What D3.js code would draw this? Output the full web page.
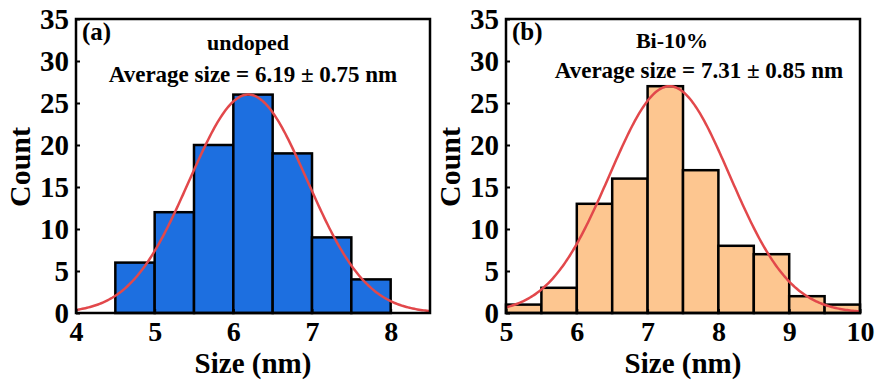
<!DOCTYPE html>
<html>
<head>
<meta charset="utf-8">
<script src="https://cdn.jsdelivr.net/npm/d3@7"></script>
<style>
  body { margin: 0; background: #fff; }
  svg text { font-family: "Liberation Serif", "Times New Roman", serif; font-weight: bold; fill: #000; }
</style>
</head>
<body>
<div class="chart"></div>
<script>
// panel (a): undoped
const binStartsA = [4.5, 5, 5.5, 6, 6.5, 7, 7.5];
const countsA = [6, 12, 20, 26, 19, 9, 4];
const xTicksA = [4, 5, 6, 7, 8];
const fitA = [6.19, 0.75, 26];   // mean, sd, peak

// panel (b): Bi-10%
const binStartsB = [5, 5.5, 6, 6.5, 7, 7.5, 8, 8.5, 9, 9.5];
const countsB = [1, 3, 13, 16, 27, 17, 8, 7, 2, 1];
const xTicksB = [5, 6, 7, 8, 9, 10];
const fitB = [7.31, 0.85, 27];

const yTicks = [0, 5, 10, 15, 20, 25, 30, 35];
const binWidth = 0.5;

const W = 878, H = 385;
const svg = d3.select(".chart").append("svg")
    .attr("width", W).attr("height", H);

function drawPanel(opt) {
    const g = svg.append("g");
    const x = d3.scaleLinear().domain(opt.xDomain).range([opt.left, opt.right]);
    const y = d3.scaleLinear().domain([0, 35]).range([313, 19]);

    // bars
    g.selectAll(".bar")
      .data(opt.starts.map((s, i) => ({ s: s, c: opt.counts[i] })))
      .enter().append("rect")
        .attr("class", "bar")
        .attr("x", d => x(d.s))
        .attr("y", d => y(d.c))
        .attr("width", d => x(d.s + binWidth) - x(d.s))
        .attr("height", d => y(0) - y(d.c))
        .attr("fill", opt.fill)
        .attr("stroke", "#000")
        .attr("stroke-width", 2.5);

    // gaussian fit line
    const mean = opt.fit[0], sd = opt.fit[1], peak = opt.fit[2];
    const xs = d3.range(opt.xDomain[0], opt.xDomain[1] + 0.001, 0.02);
    const line = d3.line()
        .x(d => x(d))
        .y(d => y(peak * Math.exp(-(d - mean) * (d - mean) / (2 * sd * sd))));
    g.append("path")
        .attr("d", line(xs))
        .attr("fill", "none")
        .attr("stroke", "#e2484b")
        .attr("stroke-width", 2.5);

    // frame
    g.append("rect")
        .attr("x", opt.left).attr("y", 19)
        .attr("width", opt.right - opt.left).attr("height", 313 - 19)
        .attr("fill", "none").attr("stroke", "#000").attr("stroke-width", 2.5);

    // axes
    const xAxis = g.append("g")
        .attr("transform", "translate(0,313)")
        .call(d3.axisBottom(x).tickValues(opt.xTicks).tickSize(-4).tickPadding(8).tickFormat(d3.format("d")));
    xAxis.select(".domain").remove();
    xAxis.selectAll("line").attr("stroke", "#000").attr("stroke-width", 2);
    xAxis.selectAll("text").style("font-size", "28px").attr("dy", "0.71em");

    const yAxis = g.append("g")
        .attr("transform", "translate(" + opt.left + ",0)")
        .call(d3.axisLeft(y).tickValues(yTicks).tickSize(-4).tickPadding(7));
    yAxis.select(".domain").remove();
    yAxis.selectAll("line").attr("stroke", "#000").attr("stroke-width", 2);
    yAxis.selectAll("text").style("font-size", "29px").attr("dy", "0.34em");

    // axis titles
    g.append("text")
        .attr("x", (opt.left + opt.right) / 2).attr("y", 373)
        .attr("text-anchor", "middle")
        .style("font-size", "29px")
        .text("Size (nm)");
    g.append("text")
        .attr("transform", "translate(" + (opt.left - 46) + ",167) rotate(-90)")
        .attr("text-anchor", "middle")
        .style("font-size", "30px")
        .text("Count");

    // annotations
    g.append("text")
        .attr("x", opt.left + 6).attr("y", 40)
        .style("font-size", "25px")
        .text(opt.tag);
    g.append("text")
        .attr("x", opt.labelX).attr("y", opt.labelY)
        .attr("text-anchor", "middle")
        .style("font-size", "22px")
        .text(opt.label);
    g.append("text")
        .attr("x", opt.avgX).attr("y", opt.avgY)
        .attr("text-anchor", "middle")
        .style("font-size", "23px")
        .text(opt.avg);
}

drawPanel({
    left: 76, right: 430, xDomain: [4, 8.5],
    starts: binStartsA, counts: countsA, xTicks: xTicksA, fit: fitA,
    fill: "#1d6fe0", tag: "(a)", label: "undoped", labelX: 248, labelY: 50,
    avg: "Average size = 6.19 \u00b1 0.75 nm", avgX: 253, avgY: 82
});

drawPanel({
    left: 506, right: 860, xDomain: [5, 10],
    starts: binStartsB, counts: countsB, xTicks: xTicksB, fit: fitB,
    fill: "#fdc690", tag: "(b)", label: "Bi-10%", labelX: 672, labelY: 48,
    avg: "Average size = 7.31 \u00b1 0.85 nm", avgX: 699, avgY: 78
});
</script>
</body>
</html>
